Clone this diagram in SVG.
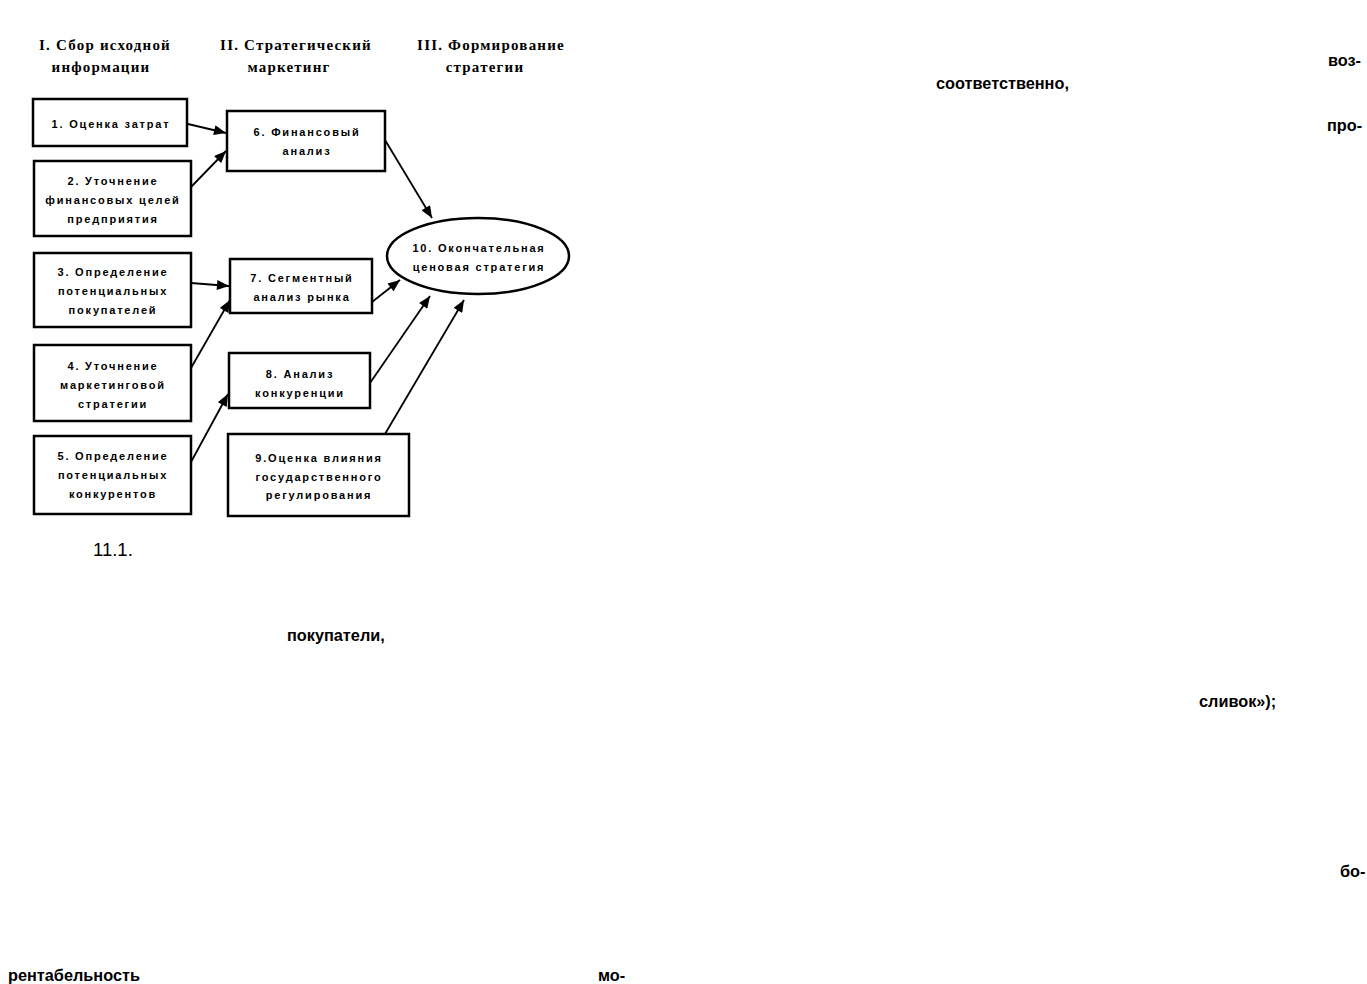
<svg xmlns="http://www.w3.org/2000/svg" width="1367" height="984" viewBox="0 0 1367 984">
<defs>
<marker id="ah" viewBox="0 0 12 10" refX="12" refY="5" markerWidth="13" markerHeight="10" markerUnits="userSpaceOnUse" orient="auto">
<path d="M0,0 L12,5 L0,10 z" fill="#000"/>
</marker>
<style>
.box{fill:#fff;stroke:#000;stroke-width:2.5}
.bt{font-family:"Liberation Sans",Arial,sans-serif;font-weight:bold;font-size:11px;letter-spacing:1.8px;text-anchor:middle;fill:#000}
.hd{font-family:"Liberation Serif","Times New Roman",serif;font-weight:bold;font-size:15px;letter-spacing:1.2px;text-anchor:middle;fill:#000}
.pt{font-family:"Liberation Sans",Arial,sans-serif;font-weight:bold;font-size:16.3px;fill:#000}
.pr{font-family:"Liberation Sans",Arial,sans-serif;font-size:18.5px;fill:#000}
.cn{fill:none;stroke:#000;stroke-width:1.8;marker-end:url(#ah)}
</style>
</defs>
<rect width="1367" height="984" fill="#fff"/>
<g id="headers">
<text class="hd" x="105" y="50">I. Сбор исходной</text>
<text class="hd" x="101" y="72">информации</text>
<text class="hd" x="296" y="50">II. Стратегический</text>
<text class="hd" x="289" y="72">маркетинг</text>
<text class="hd" x="491" y="50">III. Формирование</text>
<text class="hd" x="485" y="72">стратегии</text>
</g>
<g id="connectors">
<line class="cn" x1="188" y1="124" x2="226" y2="133"/>
<line class="cn" x1="191" y1="187" x2="226" y2="151"/>
<line class="cn" x1="191" y1="283" x2="229" y2="286"/>
<line class="cn" x1="191" y1="368" x2="230" y2="300"/>
<line class="cn" x1="191" y1="462" x2="228" y2="394"/>
<line class="cn" x1="385" y1="140" x2="432" y2="218"/>
<line class="cn" x1="372" y1="302" x2="400" y2="280"/>
<line class="cn" x1="370" y1="383" x2="430" y2="296"/>
<line class="cn" x1="385" y1="434" x2="464" y2="300"/>
</g>
<g id="n1"><rect class="box" x="33" y="99" width="154" height="47"/>
<text class="bt" x="111" y="128">1. Оценка затрат</text></g>
<g id="n2"><rect class="box" x="34" y="161" width="157" height="75"/>
<text class="bt" x="113" y="185">2. Уточнение</text><text class="bt" x="113" y="204">финансовых целей</text><text class="bt" x="113" y="223">предприятия</text></g>
<g id="n3"><rect class="box" x="34" y="253" width="157" height="74"/>
<text class="bt" x="113" y="276">3. Определение</text><text class="bt" x="113" y="295">потенциальных</text><text class="bt" x="113" y="314">покупателей</text></g>
<g id="n4"><rect class="box" x="34" y="345" width="157" height="76"/>
<text class="bt" x="113" y="370">4. Уточнение</text><text class="bt" x="113" y="389">маркетинговой</text><text class="bt" x="113" y="408">стратегии</text></g>
<g id="n5"><rect class="box" x="34" y="436" width="157" height="78"/>
<text class="bt" x="113" y="460">5. Определение</text><text class="bt" x="113" y="479">потенциальных</text><text class="bt" x="113" y="498">конкурентов</text></g>
<g id="n6"><rect class="box" x="227" y="111" width="158" height="60"/>
<text class="bt" x="307" y="136">6. Финансовый</text><text class="bt" x="307" y="155">анализ</text></g>
<g id="n7"><rect class="box" x="230" y="259" width="142" height="54"/>
<text class="bt" x="302" y="282">7. Сегментный</text><text class="bt" x="302" y="301">анализ рынка</text></g>
<g id="n8"><rect class="box" x="229" y="353" width="141" height="55"/>
<text class="bt" x="300" y="378">8. Анализ</text><text class="bt" x="300" y="397">конкуренции</text></g>
<g id="n9"><rect class="box" x="228" y="434" width="181" height="82"/>
<text class="bt" x="319" y="462">9.Оценка влияния</text><text class="bt" x="319" y="481">государственного</text><text class="bt" x="319" y="499">регулирования</text></g>
<g id="n10"><ellipse class="box" cx="478" cy="256" rx="91" ry="38"/>
<text class="bt" x="479" y="252">10. Окончательная</text><text class="bt" x="479" y="271">ценовая стратегия</text></g>
<g id="page-text">
<text class="pt" x="1328" y="66">воз-</text>
<text class="pt" x="936" y="89">соответственно,</text>
<text class="pt" x="1327" y="131">про-</text>
<text class="pr" x="93" y="556">11.1.</text>
<text class="pt" x="287" y="641">покупатели,</text>
<text class="pt" x="1199" y="707">сливок»);</text>
<text class="pt" x="1340" y="877">бо-</text>
<text class="pt" x="8" y="981">рентабельность</text>
<text class="pt" x="598" y="981">мо-</text>
</g>
</svg>
